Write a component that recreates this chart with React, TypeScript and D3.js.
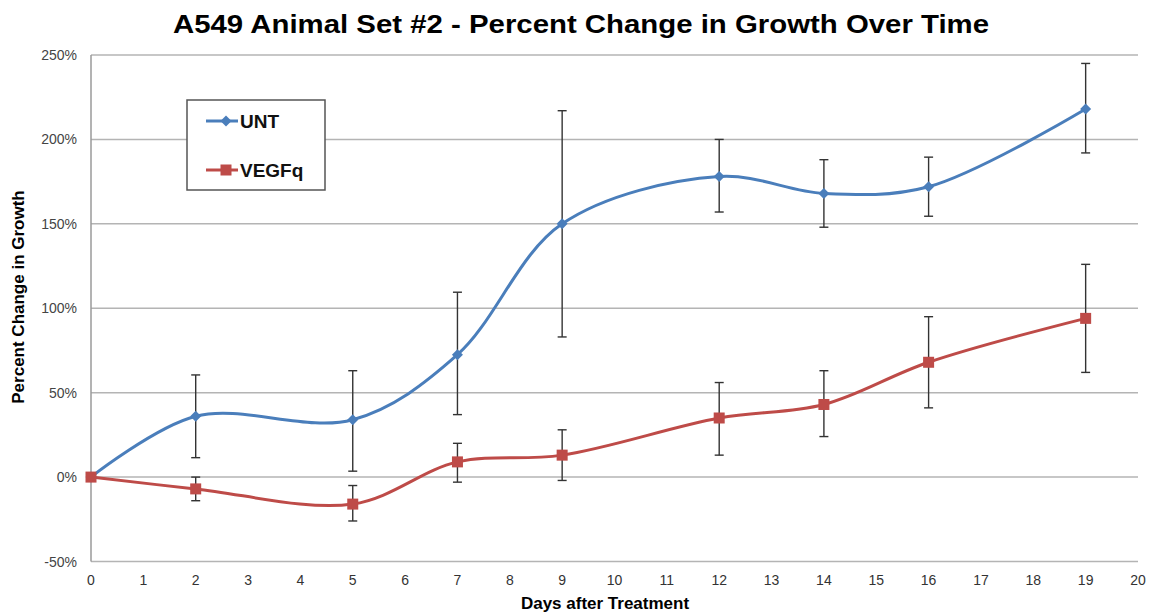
import React from "react";
import * as d3 from "d3";

const days = [0, 2, 5, 7, 9, 12, 14, 16, 19];
const untValues = [0, 36, 34, 72.5, 150, 178, 168, 172, 218];
const untLow = [0, 11.5, 3.5, 37, 83, 157, 148, 154.5, 192];
const untHigh = [0, 60.5, 63, 109.5, 217, 200, 188, 189.5, 245];
const vegfValues = [0, -7, -16, 9, 13, 35, 43, 68, 94];
const vegfLow = [0, -14, -26, -3, -2, 13, 24, 41, 62];
const vegfHigh = [0, 0, -5, 20, 28, 56, 63, 95, 126];
const yTicks = [-50, 0, 50, 100, 150, 200, 250];
const xTicks = d3.range(0, 21);
const seriesNames = ["UNT", "VEGFq"];
const seriesColors = ["#4A7EBB", "#BE4B48"];

const W = 1149;
const H = 614;
const M = { left: 91, right: 1138, top: 55, bottom: 561.5 };

export default function App() {
  const x = d3.scaleLinear().domain([0, 20]).range([M.left, M.right]);
  const y = d3.scaleLinear().domain([-50, 250]).range([M.bottom, M.top]);
  const line = d3
    .line<number>()
    .x((_, i) => x(days[i]))
    .y((v) => y(v))
    .curve(d3.curveCatmullRom.alpha(0.5));

  const font = "'Liberation Sans', Arial, sans-serif";
  const series = [
    { name: seriesNames[0], vals: untValues, lo: untLow, hi: untHigh, color: seriesColors[0], marker: "diamond" },
    { name: seriesNames[1], vals: vegfValues, lo: vegfLow, hi: vegfHigh, color: seriesColors[1], marker: "square" },
  ];

  const marker = (kind: string, cx: number, cy: number, color: string, key: any) =>
    kind === "diamond" ? (
      <path key={key} d={`M${cx},${cy - 5.5}L${cx + 5.5},${cy}L${cx},${cy + 5.5}L${cx - 5.5},${cy}Z`} fill={color} />
    ) : (
      <rect key={key} x={cx - 5.5} y={cy - 5.5} width={11} height={11} fill={color} />
    );

  return (
    <svg width={W} height={H} style={{ position: "absolute", left: 0, top: 0, background: "#fff" }}>
      <rect x={0} y={0} width={W} height={H} fill="#fff" />
      {yTicks.map((t) => (
        <line key={t} x1={M.left} x2={M.right} y1={y(t)} y2={y(t)} stroke="#B4B4B4" strokeWidth={1.5} />
      ))}
      <line x1={M.left} x2={M.left} y1={M.top} y2={M.bottom} stroke="#9A9A9A" strokeWidth={1.5} />
      {yTicks.map((t) => (
        <text key={t} x={77} y={y(t) + 5} textAnchor="end" fontFamily={font} fontSize={14} fill="#444">
          {t}%
        </text>
      ))}
      {xTicks.map((t) => (
        <text key={t} x={x(t)} y={585} textAnchor="middle" fontFamily={font} fontSize={14} fill="#333">
          {t}
        </text>
      ))}
      {series.map((s, si) =>
        days.map((d, i) =>
          i === 0 ? null : (
            <g key={`${si}-${i}`} stroke="#333" strokeWidth={1.4}>
              <line x1={x(d)} x2={x(d)} y1={y(s.lo[i])} y2={y(s.hi[i])} />
              <line x1={x(d) - 4.5} x2={x(d) + 4.5} y1={y(s.lo[i])} y2={y(s.lo[i])} />
              <line x1={x(d) - 4.5} x2={x(d) + 4.5} y1={y(s.hi[i])} y2={y(s.hi[i])} />
            </g>
          )
        )
      )}
      {series.map((s) => (
        <path key={s.name} d={line(s.vals) || ""} fill="none" stroke={s.color} strokeWidth={3} />
      ))}
      {series.map((s) => days.map((d, i) => marker(s.marker, x(d), y(s.vals[i]), s.color, `${s.name}${i}`)))}
      <rect x={187} y={100} width={138} height={90} fill="#fff" stroke="#555" strokeWidth={1.5} />
      {series.map((s, i) => {
        const ly = 121 + i * 49;
        return (
          <g key={s.name}>
            <line x1={206} x2={238} y1={ly} y2={ly} stroke={s.color} strokeWidth={3} />
            {marker(s.marker, 226, ly, s.color, "m")}
            <text x={240} y={ly + 7} fontFamily={font} fontWeight="bold" fontSize={19} fill="#111">
              {s.name}
            </text>
          </g>
        );
      })}
      <text
        x={173}
        y={33}
        textLength={816}
        lengthAdjust="spacingAndGlyphs"
        fontFamily={font}
        fontWeight="bold"
        fontSize={25}
        fill="#000"
      >
        A549 Animal Set #2 - Percent Change in Growth Over Time
      </text>
      <text
        transform={`translate(24,${297}) rotate(-90)`}
        textAnchor="middle"
        fontFamily={font}
        fontWeight="bold"
        fontSize={17}
        fill="#000"
      >
        Percent Change in Growth
      </text>
      <text x={605} y={609} textAnchor="middle" fontFamily={font} fontWeight="bold" fontSize={17} fill="#000">
        Days after Treatment
      </text>
    </svg>
  );
}
